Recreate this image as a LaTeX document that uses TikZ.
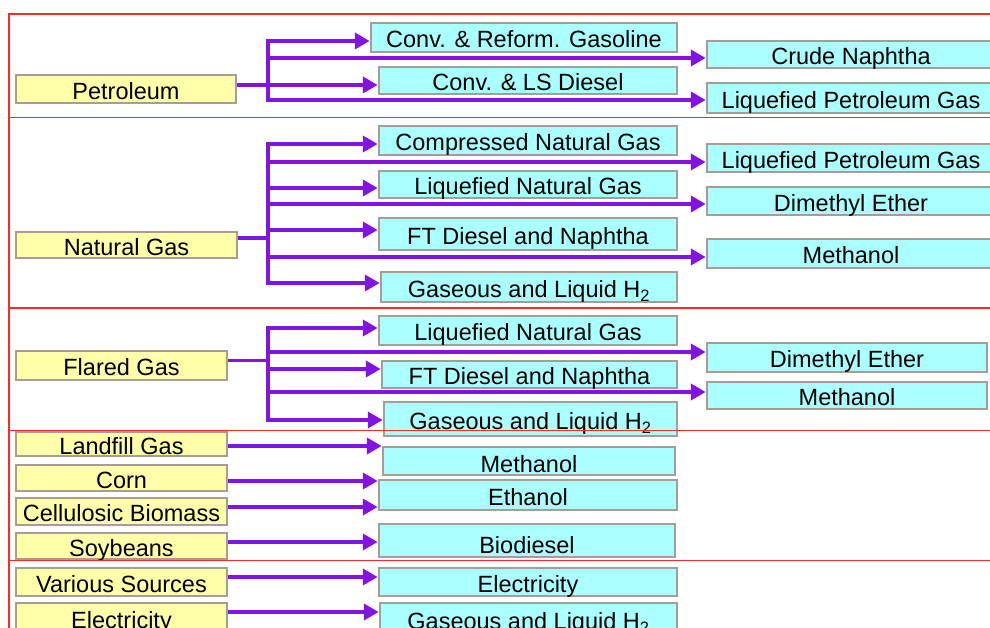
\documentclass[tikz,border=0pt]{standalone}
\usepackage{fontspec}
\setmainfont{Liberation Sans}
\usetikzlibrary{arrows.meta}
\definecolor{fr}{RGB}{255,40,40}
\definecolor{pu}{RGB}{130,20,225}
\definecolor{cy}{RGB}{170,255,255}
\definecolor{ye}{RGB}{255,255,170}
\definecolor{bd}{RGB}{166,158,150}
\begin{document}
\begin{tikzpicture}[x=1pt,y=-1pt,
  box/.style={draw=bd, line width=2.5pt, inner sep=0pt, font=\fontsize{23.5}{24}\selectfont, text height=20.8pt, text depth=0pt},
  src/.style={box, fill=ye},
  dst/.style={box, fill=cy},
  pl/.style={draw=pu, line width=4pt},
  arr/.style={pl, -{Triangle[length=15pt,width=16pt]}},
  trunk/.style={pl, line cap=rect},
  sep/.style={draw=fr, line width=1.8pt}]
\useasboundingbox (0,0) rectangle (990,628);
\fill[white] (0,0) rectangle (990,628);

% sources
\node[src, minimum width=220pt, minimum height=28pt] (pet) at (126,89) {Petroleum};
\node[src, minimum width=221pt, minimum height=26pt] (ng) at (126.5,245) {Natural Gas};
\node[src, minimum width=211pt, minimum height=29pt] (fg) at (121.5,365.5) {Flared Gas};
\node[src, minimum width=211pt, minimum height=24pt] (lf) at (121.5,444) {Landfill Gas};
\node[src, minimum width=211pt, minimum height=26pt] (corn) at (121.5,478) {Corn};
\node[src, minimum width=211pt, minimum height=27pt] (cell) at (121.5,511.5) {Cellulosic Biomass};
\node[src, minimum width=211pt, minimum height=26pt] (soy) at (121.5,546) {Soybeans};
\node[src, minimum width=211pt, minimum height=28pt] (var) at (121.5,582) {Various Sources};
\node[src, minimum width=211pt, minimum height=30pt] (el) at (121.5,618) {Electricity};

% middle column
\node[dst, minimum width=306pt, minimum height=29pt] (gas) at (524,37.5) {Conv. \& Reform. Gasoline};
\node[dst, minimum width=298pt, minimum height=27pt] (dsl) at (528,80.5) {Conv. \& LS Diesel};
\node[dst, minimum width=298pt, minimum height=29pt] (cng) at (528,140.5) {Compressed Natural Gas};
\node[dst, minimum width=298pt, minimum height=27pt] (lng) at (528,184.5) {Liquefied Natural Gas};
\node[dst, minimum width=298pt, minimum height=32pt] (ft) at (528,234) {FT Diesel and Naphtha};
\node[dst, minimum width=296pt, minimum height=30pt] (h2) at (529,287) {Gaseous and Liquid H\textsubscript{2}};
\node[dst, minimum width=298pt, minimum height=29pt] (lng3) at (528,330.5) {Liquefied Natural Gas};
\node[dst, minimum width=295pt, minimum height=27pt] (ft3) at (529.5,374.5) {FT Diesel and Naphtha};
\node[dst, minimum width=293pt, minimum height=34pt] (h2b) at (530.5,419) {Gaseous and Liquid H\textsubscript{2}};
\node[dst, minimum width=292pt, minimum height=28pt, text height=23.8pt] (meth4) at (529,461) {Methanol};
\node[dst, minimum width=298pt, minimum height=30pt] (eth) at (528,495) {Ethanol};
\node[dst, minimum width=296pt, minimum height=33pt, text height=26.8pt] (bio) at (527,540.5) {Biodiesel};
\node[dst, minimum width=298pt, minimum height=28pt] (elec) at (528,582) {Electricity};
\node[dst, minimum width=297pt, minimum height=32pt] (h2e) at (528.5,619) {Gaseous and Liquid H\textsubscript{2}};

% right column
\node[dst, minimum width=288pt, minimum height=27pt] (cn) at (851,54.5) {Crude Naphtha};
\node[dst, minimum width=288pt, minimum height=30pt] (lpg) at (851,98) {Liquefied Petroleum Gas};
\node[dst, minimum width=288pt, minimum height=28pt] (lpg2) at (851,158) {Liquefied Petroleum Gas};
\node[dst, minimum width=288pt, minimum height=28pt] (dme) at (851,201) {Dimethyl Ether};
\node[dst, minimum width=288pt, minimum height=29pt] (meoh) at (851,253.5) {Methanol};
\node[dst, minimum width=280pt, minimum height=29pt] (dme3) at (847,357.5) {Dimethyl Ether};
\node[dst, minimum width=280pt, minimum height=27pt] (meoh3) at (847,395.5) {Methanol};

% section 1 connectors
\coordinate (a1) at (268,41);
\coordinate (a2) at (268,58);
\coordinate (a3) at (268,85);
\coordinate (a4) at (268,100);
\draw[trunk] (a1) -- (a4);
\draw[arr] (a1) -- (gas.west |- a1);
\draw[arr] (a2) -- (cn.west |- a2);
\draw[arr] (pet.east |- a3) -- (dsl.west |- a3);
\draw[arr] (a4) -- (lpg.west |- a4);

% section 2 connectors
\coordinate (b0) at (268,238);
\coordinate (b1) at (268,144);
\coordinate (b2) at (268,162);
\coordinate (b3) at (268,188);
\coordinate (b4) at (268,204);
\coordinate (b5) at (268,230);
\coordinate (b6) at (268,257);
\coordinate (b7) at (268,283);
\draw[trunk] (b1) -- (b7);
\draw[pl] (ng.east |- b0) -- (b0);
\draw[arr] (b1) -- (cng.west |- b1);
\draw[arr] (b2) -- (lpg2.west |- b2);
\draw[arr] (b3) -- (lng.west |- b3);
\draw[arr] (b4) -- (dme.west |- b4);
\draw[arr] (b5) -- (ft.west |- b5);
\draw[arr] (b6) -- (meoh.west |- b6);
\draw[arr] (b7) -- (h2.west |- b7);

% section 3 connectors
\coordinate (c0) at (268,360);
\coordinate (c1) at (268,328);
\coordinate (c2) at (268,352);
\coordinate (c3) at (268,369);
\coordinate (c4) at (268,392);
\coordinate (c5) at (268,420);
\draw[trunk] (c1) -- (c5);
\draw[pl, line width=3pt] (fg.east |- c0) -- (c0);
\draw[arr] (c1) -- (lng3.west |- c1);
\draw[arr] (c2) -- (dme3.west |- c2);
\draw[arr] (c3) -- (ft3.west |- c3);
\draw[arr] (c4) -- (meoh3.west |- c4);
\draw[arr] (c5) -- (h2b.west |- c5);

% sections 4 and 5 connectors
\coordinate (d1) at (300,446);
\coordinate (d2) at (300,481);
\coordinate (d3) at (300,507);
\coordinate (d4) at (300,542);
\coordinate (d5) at (300,577);
\coordinate (d6) at (300,612);
\draw[arr] (lf.east |- d1) -- (meth4.west |- d1);
\draw[arr] (corn.east |- d2) -- (eth.west |- d2);
\draw[arr] (cell.east |- d3) -- (eth.west |- d3);
\draw[arr] (soy.east |- d4) -- (bio.west |- d4);
\draw[arr] (var.east |- d5) -- (elec.west |- d5);
\draw[arr] (el.east |- d6) -- (h2e.west |- d6);

% red frame and separators
\draw[sep] (9,640) -- (9,14) -- (995,14);
\draw[sep] (9,117.5) -- (995,117.5);
\draw[sep] (9,308) -- (995,308);
\draw[sep] (9,430.5) -- (995,430.5);
\draw[sep] (9,560.5) -- (995,560.5);
\end{tikzpicture}
\end{document}
